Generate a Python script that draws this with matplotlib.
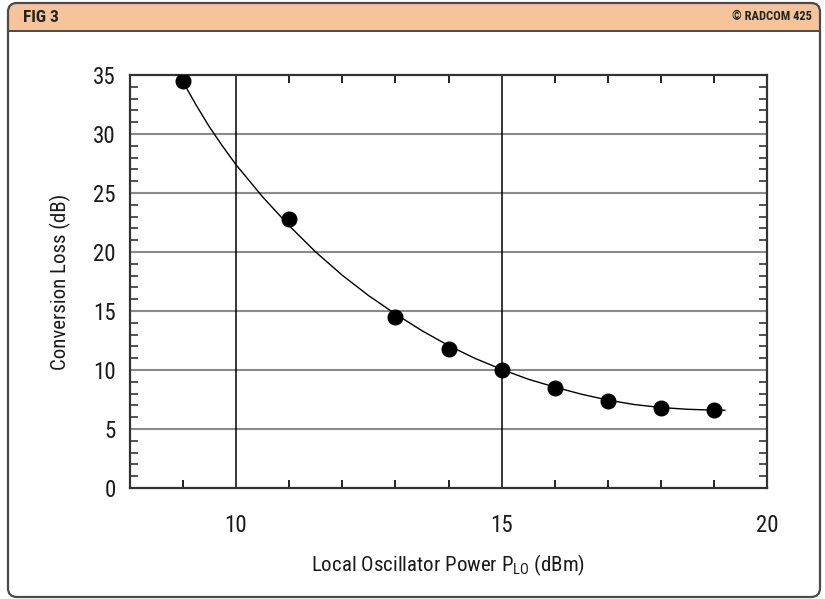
import matplotlib
matplotlib.use("Agg")
import matplotlib.pyplot as plt
from matplotlib import font_manager
from matplotlib.patches import FancyBboxPatch, Rectangle
from matplotlib.ticker import FixedLocator, NullFormatter

# Measured conversion loss vs LO drive
lo_power = [9, 11, 13, 14, 15, 16, 17, 18, 19]
conv_loss = [34.5, 22.8, 14.5, 11.8, 10.0, 8.5, 7.35, 6.8, 6.6]

# Smooth trend curve through the measurements
trend_x = [8.93, 9.0, 9.25, 9.5, 9.75, 10.0, 10.5, 11.0, 11.5, 12.0, 12.5, 13.0,
           13.5, 14.0, 14.5, 15.0, 15.5, 16.0, 16.5, 17.0, 17.5, 18.0, 18.5, 19.0, 19.2]
trend_y = [35.05, 34.45, 32.45, 30.6, 28.95, 27.4, 24.68, 22.23, 20.0, 18.03, 16.29, 14.75,
           13.33, 12.07, 10.98, 10.05, 9.22, 8.55, 7.95, 7.45, 7.07, 6.82, 6.67, 6.6, 6.59]

x_major = [10, 15, 20]
x_minor = [9, 11, 12, 13, 14, 16, 17, 18, 19]
y_major = [0, 5, 10, 15, 20, 25, 30, 35]
y_minor = [v for v in range(0, 36) if v % 5]

title_left = "FIG 3"
title_right = "© RADCOM 425"
x_label = r"Local Oscillator Power P$_{\mathregular{LO}}$ (dBm)"
y_label = "Conversion Loss (dB)"

# Prefer a narrow sans face when one is installed
names = sorted({f.name for f in font_manager.fontManager.ttflist})
family = "Liberation Sans"
for pref in ["Liberation Sans Narrow", "Roboto Condensed", "Noto Sans Condensed",
             "Open Sans Condensed", "DejaVu Sans Condensed"]:
    if pref in names:
        family = pref
        break
else:
    narrow = [n for n in names if ("Condensed" in n or "Narrow" in n)
              and "Mono" not in n and "Serif" not in n and "CJK" not in n]
    if narrow:
        family = narrow[0]

plt.rcParams["font.family"] = [family, "DejaVu Sans"]
plt.rcParams["mathtext.fontset"] = "custom"
plt.rcParams["mathtext.rm"] = family

W, H = 825, 599
fig = plt.figure(figsize=(W / 100, H / 100), dpi=100)

# Frame and header band drawn in pixel coordinates
bg = fig.add_axes([0, 0, 1, 1])
bg.set_xlim(0, W)
bg.set_ylim(H, 0)
bg.axis("off")
frame = FancyBboxPatch((8, 3), 812, 594, boxstyle="round,pad=0,rounding_size=9",
                       facecolor="white", edgecolor="none", zorder=1)
bg.add_patch(frame)
band = Rectangle((0, 0), W, 31, facecolor="#f5c49b", edgecolor="none", zorder=2)
bg.add_patch(band)
band.set_clip_path(frame)
bg.plot([8, 820], [31, 31], color="#4a4a4a", lw=1.4, zorder=3)
frame_edge = FancyBboxPatch((8, 3), 812, 594, boxstyle="round,pad=0,rounding_size=9",
                            facecolor="none", edgecolor="#4a4a4a", linewidth=1.6, zorder=4)
bg.add_patch(frame_edge)
bg.text(23, 17, title_left, fontsize=12.5, color="#222222", va="center", ha="left",
        fontweight="bold", zorder=5)
bg.text(812, 17, title_right, fontsize=9, color="#222222", va="center", ha="right",
        fontweight="bold", zorder=5)

# Chart area
ax = fig.add_axes([129.7 / W, 1 - 488 / H, (767.4 - 129.7) / W, (488 - 75) / H])
ax.set_xlim(8, 20)
ax.set_ylim(0, 35)
ax.patch.set_alpha(0)

for v in y_major[1:-1]:
    ax.axhline(v, color="#8a8a8a", lw=1.5, zorder=1)
for v in x_major[:-1]:
    ax.axvline(v, color="black", lw=1.1, zorder=1)

ax.plot(trend_x, trend_y, color="black", lw=1.0, zorder=2)
ax.plot(lo_power, conv_loss, "o", color="black", markersize=10.5, zorder=3)

ax.xaxis.set_major_locator(FixedLocator(x_major))
ax.xaxis.set_minor_locator(FixedLocator(x_minor))
ax.yaxis.set_major_locator(FixedLocator(y_major))
ax.yaxis.set_minor_locator(FixedLocator(y_minor))
ax.xaxis.set_minor_formatter(NullFormatter())
ax.yaxis.set_minor_formatter(NullFormatter())

ax.tick_params(axis="x", which="major", length=0, pad=19, labelsize=16.5, labelcolor="#1a1a1a")
ax.tick_params(axis="x", which="minor", direction="in", length=6, width=1.4,
               top=True, bottom=True, color="#222222")
ax.tick_params(axis="y", which="major", length=0, pad=10, labelsize=16.5, labelcolor="#1a1a1a")
ax.tick_params(axis="y", which="minor", direction="in", length=6, width=1.2,
               left=True, right=True, color="#333333")

for s in ax.spines.values():
    s.set_color("#333333")
    s.set_linewidth(1.6)

ax.set_xlabel(x_label, fontsize=15, labelpad=11, color="#1a1a1a")
ax.set_ylabel(y_label, fontsize=15, labelpad=16, color="#1a1a1a")

fig.savefig("out.png", dpi=100)
